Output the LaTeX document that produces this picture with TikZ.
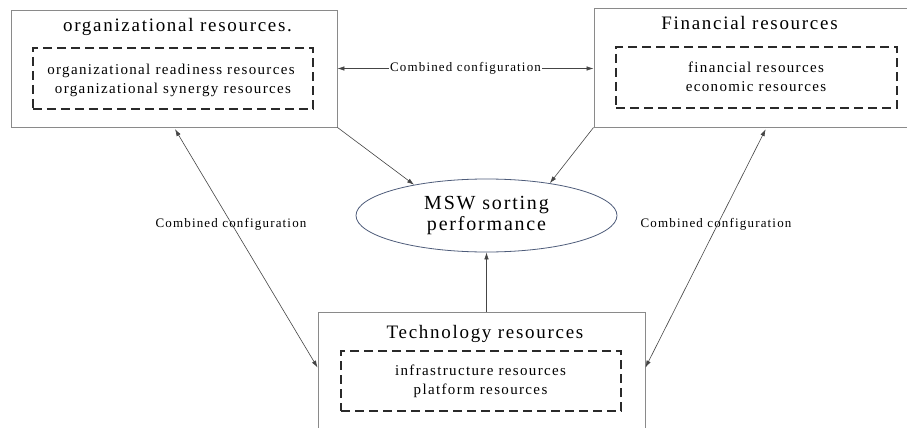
\documentclass[tikz,border=0pt]{standalone}
\usepackage{fontspec}
\setmainfont{Liberation Serif}[LetterSpace=9]
\usetikzlibrary{arrows.meta,shapes.geometric}
\definecolor{boxgray}{HTML}{8A8A8A}
\definecolor{dashdark}{HTML}{2A2A2A}
\definecolor{arrowgray}{HTML}{454545}
\definecolor{ellblue}{HTML}{4E5C7A}
\tikzset{
  outerbox/.style={draw=boxgray, line width=0.9bp, inner sep=0pt, rectangle},
  dashbox/.style={draw=dashdark, line width=1.3bp, dash pattern=on 9bp off 5bp, inner sep=0pt, rectangle},
  titletext/.style={anchor=base, inner sep=0pt, font=\fontsize{19bp}{23bp}\selectfont, text=black},
  innertext/.style={anchor=base, inner sep=0pt, font=\fontsize{15bp}{19bp}\selectfont, text=black},
  labeltext/.style={inner sep=1.5bp, font=\fontsize{13bp}{16bp}\selectfont, text=black},
  conn/.style={draw=arrowgray, line width=0.6bp, -{Latex[length=7bp,width=4.5bp]}},
  dconn/.style={draw=arrowgray, line width=0.6bp, {Latex[length=7bp,width=4.5bp]}-{Latex[length=7bp,width=4.5bp]}},
}
\begin{document}
\begin{tikzpicture}[x=1bp,y=1bp]
\useasboundingbox (0,0) rectangle (907,427);
\fill[white] (0,0) rectangle (907,427);
\clip (0,0) rectangle (907,427);

% organizational resources box
\node[outerbox, minimum width=326bp, minimum height=117bp] (org) at (174,358.5) {};
\node[titletext] (orgt) at (177.5,395.3) {organizational resources.};
\node[dashbox, minimum width=280bp, minimum height=61bp] (orgd) at (173,348.5) {};
\node[innertext] (orgl1) at (171,353) {organizational readiness resources};
\node[innertext] (orgl2) at (173,334) {organizational synergy resources};

% financial resources box
\node[outerbox, minimum width=325bp, minimum height=119bp] (fin) at (756.5,359.5) {};
\node[titletext] (fint) at (749.5,397.7) {Financial resources};
\node[dashbox, minimum width=281bp, minimum height=61bp] (find) at (756.5,349.5) {};
\node[innertext] (finl1) at (756,355) {financial resources};
\node[innertext] (finl2) at (756,336) {economic resources};

% technology resources box
\node[outerbox, minimum width=327bp, minimum height=130bp] (tech) at (481.5,50) {};
\node[titletext] (techt) at (485,89) {Technology resources};
\node[dashbox, minimum width=280bp, minimum height=60bp] (techd) at (481,46) {};
\node[innertext] (techl1) at (480.5,52) {infrastructure resources};
\node[innertext] (techl2) at (480.5,33) {platform resources};

% ellipse
\node[ellipse, draw=ellblue, line width=0.8bp, minimum width=261bp, minimum height=73bp, inner sep=0pt,
      align=center, font=\fontsize{20bp}{21bp}\selectfont] (ell) at (486.5,211.5)
      {MSW sorting\\performance};

% connectors
\draw[dconn] (org.east) -- (org.east -| fin.west)
  node[labeltext, fill=white, midway] (lbltop) {Combined configuration};
\draw[conn] (org.south east) -- (ell.157);
\draw[conn] (fin.south west) -- (ell.27.5);
\draw[conn] (tech.north -| ell.south) -- (ell.south);
\draw[dconn, shorten <=2bp] (org.south) -- ([yshift=-56bp]tech.north west);
\draw[dconn, shorten <=2bp] ([xshift=173bp]fin.south west) -- ([yshift=-56bp]tech.north east);

\node[labeltext] (lblleft) at (231,203) {Combined configuration};
\node[labeltext] (lblright) at (716,203) {Combined configuration};
\end{tikzpicture}
\end{document}
